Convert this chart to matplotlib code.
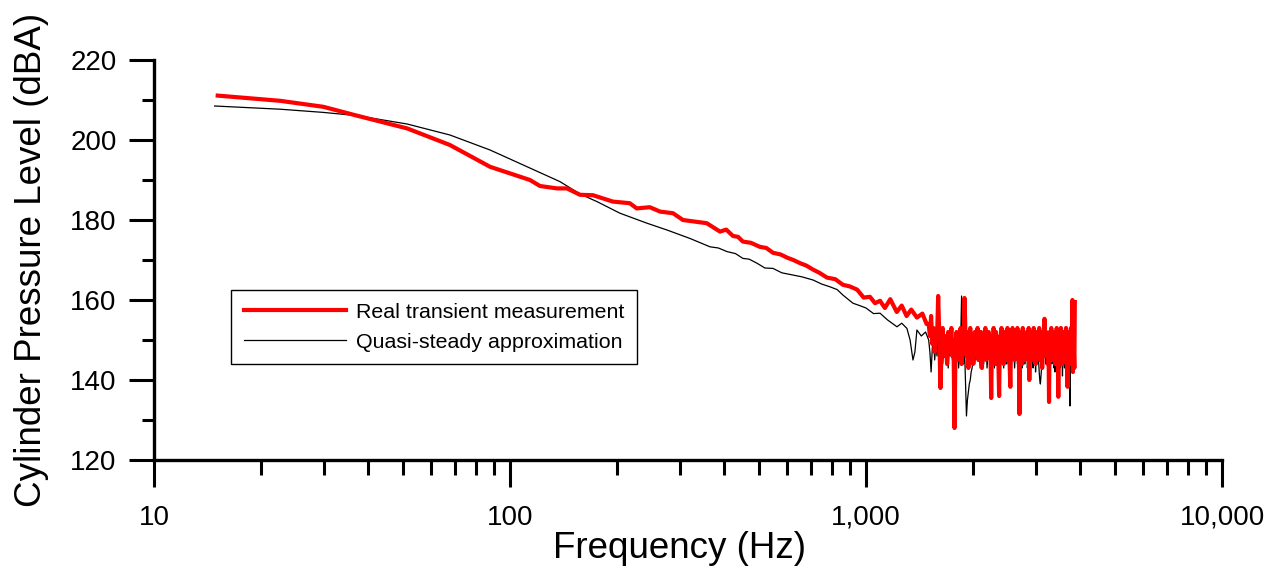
import numpy as np
import matplotlib
matplotlib.use("Agg")
import matplotlib.pyplot as plt
from matplotlib.ticker import FuncFormatter, LogLocator, MultipleLocator

plt.rcParams['font.family'] = ['Liberation Sans', 'DejaVu Sans']

# ---- data ----
red_freq_smooth = [15.1, 22.6, 29.9, 37.1, 51.4, 67.8, 87.9, 113.8, 121.4, 135.5, 144.5,
                   157.3, 171, 194.5, 217, 227, 247, 264, 287, 306, 330, 357, 389, 405,
                   423, 437, 451, 475, 503, 525, 548, 575, 600, 625, 653, 680, 710, 740,
                   777, 820, 861, 900, 944, 985, 1026, 1060, 1095, 1130, 1170, 1220, 1260,
                   1300, 1340, 1390, 1440, 1480]
red_val_smooth = [211.1, 209.8, 208.3, 206.1, 202.9, 198.75, 193.3, 190.0, 188.5, 187.9, 187.9,
                  186.3, 186.2, 184.6, 184.2, 182.9, 183.2, 182.1, 181.7, 180.0, 179.6, 179.2, 177.1, 177.6,
                  176.0, 175.8, 174.6, 174.3, 173.3, 173.0, 171.8, 171.4, 170.6, 170.0, 169.2, 168.6, 167.6, 166.8,
                  165.6, 165.2, 163.8, 163.4, 162.6, 160.6, 160.8, 159.2, 159.8, 158.0, 160.2, 157.0, 158.6,
                  156.0, 157.6, 155.6, 156.6, 154.0]

black_freq_smooth = [14.8, 22.6, 29.9, 37.1, 51.4, 67.8, 87.9, 108.9, 138.1, 157.3, 175.5,
                     203.6, 242.5, 276, 320, 364.5, 385, 407, 430, 451, 470, 494, 520, 548,
                     580, 624, 660, 710, 750, 792, 830, 861, 890, 919, 960, 1000, 1050, 1095,
                     1150, 1222, 1260, 1303, 1330, 1355, 1372, 1390, 1430, 1470]
black_val_smooth = [208.5, 207.7, 206.9, 206.1, 204.0, 201.25, 197.5, 193.75, 189.6, 186.5, 184.6,
                    181.7, 179.2, 177.5, 175.4, 173.3, 173.0, 172.1, 171.6, 170.4, 170.2, 169.2, 168.0, 167.9,
                    166.8, 166.25, 165.8, 165.0, 164.0, 163.3, 162.6, 161.25, 160.2, 159.2, 158.6, 158.0, 156.6, 156.7,
                    155.0, 153.3, 154.2, 152.9, 150.0, 145.0, 147.0, 152.5, 151.0, 152.0]

noise_start, noise_end = 1500, 3860
red_noise = [
    154, 151, 156, 149, 153, 147, 152, 150, 161, 151, 138, 148, 153, 146, 151, 149, 144, 152, 147, 150,
    153, 146, 150, 128, 149, 152, 145, 151, 148, 153, 144, 150, 147, 160.5, 151, 146, 152, 143, 149, 153,
    147, 151, 144, 150, 152, 146, 149, 153, 145, 150, 148, 152, 143, 151, 147, 150, 153, 145, 149, 146,
    152, 148, 150, 135.5, 151, 146, 153, 149, 144, 152, 147, 150, 145, 136, 151, 148, 153, 146, 150, 144,
    152, 147, 150, 145, 153, 148, 151, 144, 138.3, 150, 146, 153, 148, 151, 145, 152, 149, 147, 153, 146,
    150, 131.5, 152, 147, 149, 144, 153, 148, 151, 145, 150, 147, 152, 146, 149, 153, 140, 150, 146, 152,
    148, 151, 145, 153, 147, 150, 144, 152, 149, 146, 151, 147, 153, 145, 150, 148, 152, 143, 149, 151,
    147, 155.3, 150, 146, 152, 148, 151, 144, 150, 134.5, 152, 147, 149, 153, 145, 150, 148, 152, 146, 150,
    144, 151, 148, 153, 146, 150, 135.8, 152, 147, 149, 145, 153, 148, 150, 144, 152, 147, 151, 146, 150,
    148, 153, 145, 150, 138.3, 151, 147, 152, 144, 150, 146, 153, 148, 145, 160, 142, 151, 147, 143, 159.5]
black_noise = [
    150, 147, 142, 148, 151, 145, 149, 146, 153, 148, 146, 150, 144, 148, 147, 145, 149, 143, 148, 146,
    150, 145, 148, 144, 149, 146, 150, 143, 147, 149, 161, 146, 144, 148, 139, 131, 135, 137, 139, 140,
    142, 143, 145, 147, 144, 148, 146, 149, 145, 147, 143, 148, 146, 150, 144, 147, 145, 149, 143, 146,
    148, 145, 147, 141, 149, 146, 148, 143, 147, 150, 145, 147, 144, 142, 148, 146, 150, 144, 147, 143,
    148, 145, 149, 144, 147, 146, 148, 143, 141, 148, 145, 149, 146, 148, 143, 147, 145, 149, 144, 146,
    148, 139, 147, 145, 148, 143, 149, 146, 147, 144, 148, 145, 149, 143, 146, 148, 141, 147, 144, 149,
    145, 148, 143, 147, 145, 149, 142, 146, 148, 144, 147, 145, 142, 140, 139, 141, 143, 146, 145, 148,
    146, 150, 147, 144, 148, 145, 147, 143, 146, 141, 148, 145, 147, 149, 144, 146, 145, 148, 143, 146,
    142, 147, 145, 149, 143, 146, 140, 148, 145, 147, 143, 149, 145, 146, 141, 147, 144, 148, 143, 146,
    144, 148, 142, 146, 140, 145, 143, 147, 141, 133.5, 146, 148, 144, 142, 146, 143, 147, 145, 142, 159.5]

series_labels = ["Real transient measurement", "Quasi-steady approximation"]
x_label = "Frequency (Hz)"
y_label = "Cylinder Pressure Level (dBA)"

noise_freq = np.linspace(noise_start, noise_end, len(red_noise))
red_f = np.concatenate([red_freq_smooth, noise_freq])
red_v = np.concatenate([red_val_smooth, red_noise])
black_f = np.concatenate([black_freq_smooth, noise_freq])
black_v = np.concatenate([black_val_smooth, black_noise])

fig = plt.figure(figsize=(12.76, 5.71), dpi=100)
ax = fig.add_axes([154/1276, 1-460/571, 1068/1276, 400/571])

ax.plot(black_f, black_v, color='black', lw=0.9, label=series_labels[1], zorder=2)
ax.plot(red_f, red_v, color='#ff0000', lw=3.0, label=series_labels[0], zorder=3)

ax.set_xscale('log')
ax.set_xlim(10, 10000)
ax.set_ylim(120, 220)
ax.yaxis.set_major_locator(MultipleLocator(20))
ax.yaxis.set_minor_locator(MultipleLocator(10))
ax.xaxis.set_major_locator(LogLocator(base=10, numticks=10))
ax.xaxis.set_minor_locator(LogLocator(base=10, subs=np.arange(2, 10), numticks=20))
ax.xaxis.set_major_formatter(FuncFormatter(lambda v, p: f"{v:,.0f}"))
ax.xaxis.set_minor_formatter(FuncFormatter(lambda v, p: ""))

for s in ['top', 'right']:
    ax.spines[s].set_visible(False)
for s in ['left', 'bottom']:
    ax.spines[s].set_linewidth(2.4)

ax.tick_params(axis='y', which='major', direction='out', length=18, width=2.2, pad=9, labelsize=20)
ax.tick_params(axis='y', which='minor', direction='out', length=8.6, width=2.2)
ax.tick_params(axis='x', which='major', direction='out', length=19.4, width=2.2, pad=13, labelsize=20)
ax.tick_params(axis='x', which='minor', direction='out', length=10.5, width=2.2)

ax.set_xlabel(x_label, fontsize=26.5, labelpad=0)
ax.xaxis.label.set_x(0.4925)
ax.set_ylabel(y_label, fontsize=26.5, labelpad=15)

handles, labels = ax.get_legend_handles_labels()
leg = ax.legend(handles[::-1], labels[::-1], loc='upper left', bbox_to_anchor=(0.072, 0.425),
                fontsize=15.4, frameon=True, fancybox=False, framealpha=1, edgecolor='black',
                handlelength=4.8, handletextpad=0.45, labelspacing=0.5, borderpad=0.6,
                borderaxespad=0)
leg.get_frame().set_linewidth(1.0)

fig.savefig("out.png", dpi=100)
